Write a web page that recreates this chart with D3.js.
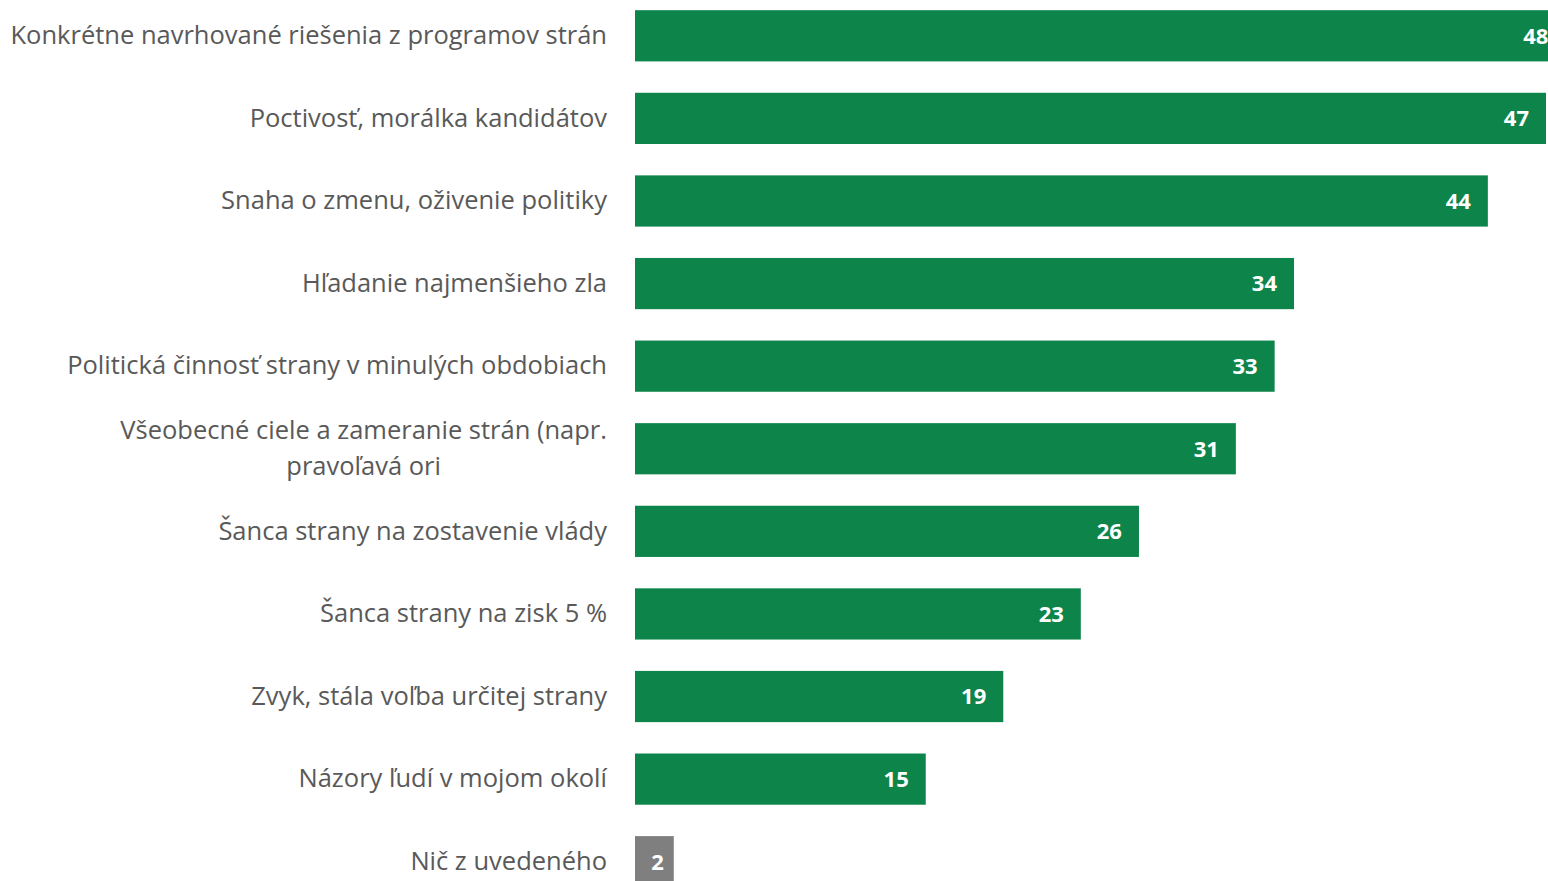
<!DOCTYPE html>
<html><head><meta charset="utf-8">
<script src="https://cdn.jsdelivr.net/npm/d3@7"></script>
<style>html,body{margin:0;padding:0;background:#fff;overflow:hidden}</style>
</head><body>
<svg id="chart" width="1548" height="881"></svg>
<script>
const categories = [
  ["Konkrétne navrhované riešenia z programov strán"],
  ["Poctivosť, morálka kandidátov"],
  ["Snaha o zmenu, oživenie politiky"],
  ["Hľadanie najmenšieho zla"],
  ["Politická činnosť strany v minulých obdobiach"],
  ["Všeobecné ciele a zameranie strán (napr.", "pravoľavá ori"],
  ["Šanca strany na zostavenie vlády"],
  ["Šanca strany na zisk 5 %"],
  ["Zvyk, stála voľba určitej strany"],
  ["Názory ľudí v mojom okolí"],
  ["Nič z uvedeného"]
];
const values = [48, 47, 44, 34, 33, 31, 26, 23, 19, 15, 2];
const colors = ["#0c844a","#0c844a","#0c844a","#0c844a","#0c844a","#0c844a","#0c844a","#0c844a","#0c844a","#0c844a","#7f7f7f"];

const svg = d3.select("#chart");
const x = d3.scaleLinear().domain([0, 47]).range([635, 1546]);
const y = d3.scaleBand().domain(d3.range(values.length)).range([-5.5, 903]).paddingInner(0.38).paddingOuter(0.19);

svg.selectAll("rect.bar").data(values).join("rect")
  .attr("class","bar")
  .attr("x", x(0))
  .attr("y", (d,i)=>y(i))
  .attr("width", d=>x(d)-x(0))
  .attr("height", y.bandwidth())
  .attr("fill", (d,i)=>colors[i]);

svg.selectAll("text.val").data(values).join("text")
  .attr("class","val")
  .attr("x", d=> (x(d)-x(0) < 60) ? x(d)-10 : x(d)-17)
  .attr("y", (d,i)=>y(i)+y.bandwidth()/2)
  .attr("dy","0.36em")
  .attr("text-anchor","end")
  .attr("font-family","'Open Sans', sans-serif")
  .attr("font-weight","bold")
  .attr("font-size","22px")
  .attr("fill","#fff")
  .text(d=>d);

const labelX = 607, fs = 25.5, lh = 36;
categories.forEach((lines,i)=>{
  const cy = y(i)+y.bandwidth()/2;
  const g = svg.append("g");
  if (lines.length === 1) {
    g.append("text").attr("x", labelX).attr("y", cy).attr("dy","0.32em")
      .attr("text-anchor","end").attr("font-family","'Open Sans', sans-serif")
      .attr("font-size", fs+"px").attr("fill","#595959").text(lines[0]);
  } else {
    const t0 = g.append("text").attr("font-family","'Open Sans', sans-serif")
      .attr("font-size", fs+"px").text(lines[0]);
    const w = t0.node().getComputedTextLength();
    t0.remove();
    const cx = labelX - w/2;
    lines.forEach((ln,k)=>{
      g.append("text").attr("x", cx)
        .attr("y", cy + (k - (lines.length-1)/2)*lh).attr("dy","0.32em")
        .attr("text-anchor","middle").attr("font-family","'Open Sans', sans-serif")
        .attr("font-size", fs+"px").attr("fill","#595959").text(ln);
    });
  }
});
</script>
</body></html>
